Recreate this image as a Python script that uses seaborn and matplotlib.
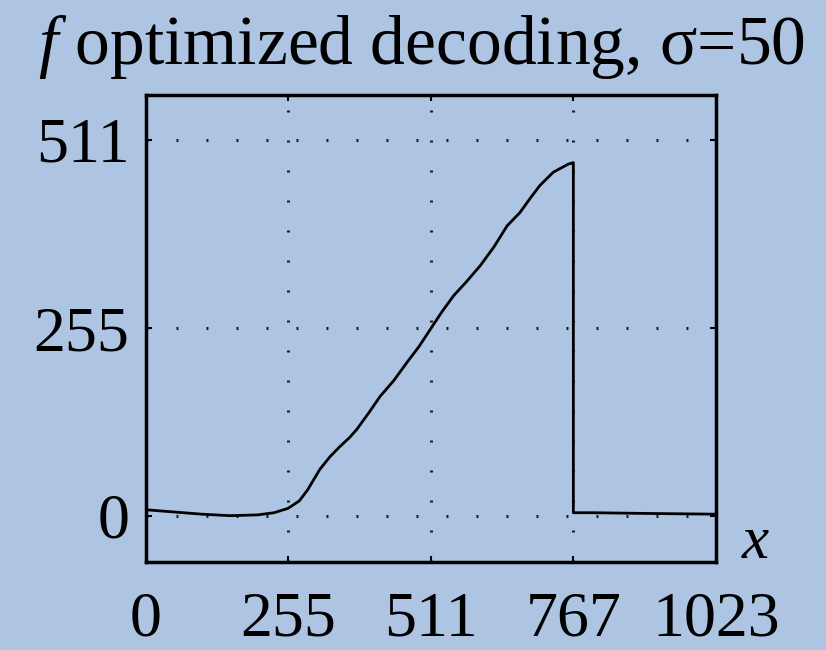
import matplotlib.pyplot as plt
import numpy as np
import pandas as pd
import seaborn as sns

# curve (x in 0..1023, f value)
x_vals = [0, 50, 100, 150, 200, 230, 255, 275, 290, 312, 330, 348, 365, 378,
          400, 420, 445, 468, 490, 510, 530, 552, 575, 600, 625, 648, 671, 690,
          707, 731, 758, 767, 767, 800, 900, 1023]
f_vals = [8, 5, 2, 0, 1, 4, 10, 20, 35, 63, 80, 94, 106, 117, 140, 162, 184,
          208, 230, 253, 276, 299, 318, 340, 366, 394, 412, 432, 449, 467, 478,
          480, 4, 4, 3, 2]
x_ticks = [0, 255, 511, 767, 1023]
y_ticks = [0, 255, 511]
title_text = r"$f$ optimized decoding, σ=50"

bg = "#ADC5E3"
sns.set_theme(style="ticks")
plt.rcParams["font.family"] = ["Liberation Serif", "DejaVu Serif"]
plt.rcParams["mathtext.fontset"] = "custom"
plt.rcParams["mathtext.rm"] = "Liberation Serif"
plt.rcParams["mathtext.it"] = "Liberation Serif:italic"
plt.rcParams["lines.scale_dashes"] = False
plt.rcParams["text.color"] = "black"

df = pd.DataFrame({"x": x_vals, "f": f_vals})

fig = plt.figure(figsize=(8.26, 6.5), dpi=100, facecolor=bg)
ax = fig.add_axes([0.1768, 0.1354, 0.69, 0.7185], facecolor=bg)

sns.lineplot(data=df, x="x", y="f", sort=False, estimator=None,
             color="black", linewidth=2.0, ax=ax)

ax.set_xlim(0, 1023)
ax.set_ylim(-63, 572)
ax.set_xticks(x_ticks)
ax.set_yticks(y_ticks)
ax.set_xticklabels([str(v) for v in x_ticks])
ax.set_yticklabels([str(v) for v in y_ticks])
ax.set_xlabel("")
ax.set_ylabel("")
ax.grid(True, color="#1a1a1a", linestyle=(0, (1.4, 20.2)), linewidth=2.2)

for s in ax.spines.values():
    s.set_visible(True)
    s.set_color("black")
    s.set_linewidth(2.5)

ax.tick_params(axis="both", direction="in", length=4, width=1.5,
               top=True, right=True, colors="black", labelsize=46)
ax.tick_params(axis="x", pad=21)
ax.tick_params(axis="y", pad=12)

fig.text(0.51, 0.928, title_text, ha="center", va="center", fontsize=50)
ax.text(1.07, 0.04, "$x$", transform=ax.transAxes, ha="center", va="center",
        fontsize=44)

fig.savefig("out.png", dpi=100, facecolor=bg)
